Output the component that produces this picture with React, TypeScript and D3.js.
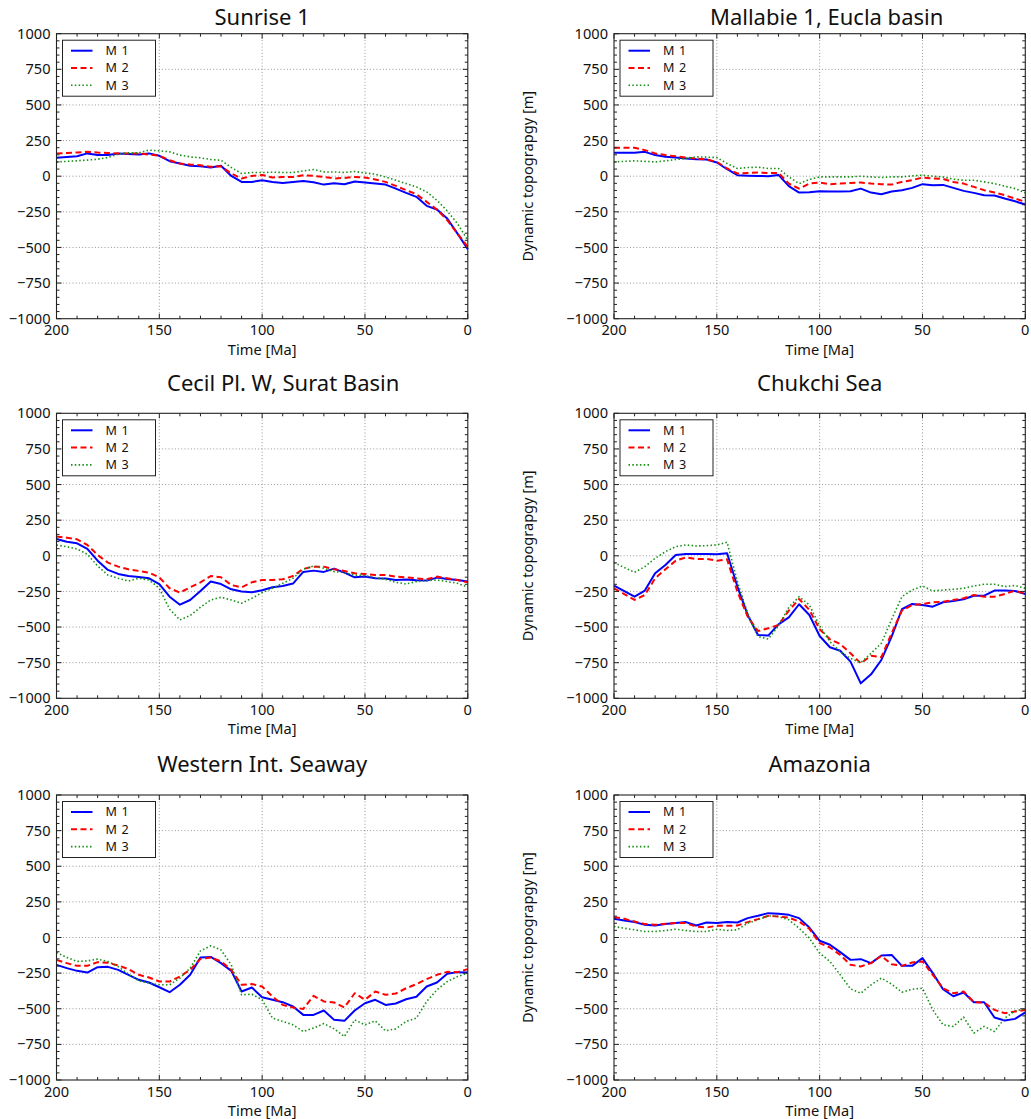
import * as d3 from "d3";

// time axis, Ma (left = old)
const times = [200, 195, 190, 185, 180, 175, 170, 165, 160, 155, 150, 145, 140, 135, 130, 125, 120, 115, 110, 105, 100, 95, 90, 85, 80, 75, 70, 65, 60, 55, 50, 45, 40, 35, 30, 25, 20, 15, 10, 5, 0];

const xTicks = [200, 150, 100, 50, 0];
const yTicks = [1000, 750, 500, 250, 0, -250, -500, -750, -1000];

const seriesNames = ["M 1", "M 2", "M 3"];

// Sunrise 1
const sunriseM1 = [129, 135, 140, 160, 148, 148, 160, 156, 152, 160, 143, 105, 89, 73, 70, 61, 73, 2, -40, -40, -28, -40, -47, -40, -33, -42, -59, -49, -56, -37, -44, -52, -59, -87, -117, -145, -208, -234, -297, -403, -513];
const sunriseM2 = [160, 163, 166, 171, 166, 163, 160, 160, 160, 152, 143, 112, 89, 82, 77, 66, 70, 19, -16, 2, 9, -9, -5, -5, 7, 2, -5, -16, -12, -5, -9, -23, -40, -68, -98, -126, -180, -234, -309, -403, -496];
const sunriseM3 = [100, 104, 108, 113, 119, 131, 155, 164, 164, 183, 178, 171, 148, 136, 129, 117, 112, 61, 19, 26, 26, 28, 26, 26, 37, 47, 30, 30, 26, 33, 23, 14, -5, -28, -52, -75, -110, -169, -244, -333, -450];

// Mallabie 1, Eucla basin
const mallabieM1 = [164, 164, 164, 171, 148, 136, 131, 125, 119, 117, 96, 49, 7, 4, 2, 0, 9, -70, -115, -112, -105, -108, -108, -105, -87, -115, -126, -108, -98, -82, -56, -63, -61, -82, -103, -117, -133, -136, -157, -176, -199];
const mallabieM2 = [199, 199, 199, 183, 160, 148, 140, 131, 124, 117, 101, 54, 19, 23, 26, 23, 23, -52, -87, -52, -44, -56, -52, -47, -44, -52, -56, -59, -40, -28, -9, -16, -19, -40, -52, -75, -98, -115, -133, -157, -180];
const mallabieM3 = [100, 104, 108, 104, 100, 108, 117, 124, 136, 134, 131, 89, 54, 61, 63, 54, 54, -5, -52, -23, -5, -5, -5, -5, 0, -5, -9, -5, -5, 2, 7, 0, -5, -21, -28, -28, -40, -52, -70, -87, -117];

// Cecil Pl. W, Surat Basin
const cecilM1 = [118, 99, 88, 48, -34, -99, -127, -142, -149, -158, -198, -287, -343, -310, -247, -181, -198, -235, -251, -256, -242, -221, -212, -195, -113, -104, -113, -90, -118, -151, -146, -158, -160, -170, -167, -172, -174, -153, -163, -170, -181];
const cecilM2 = [135, 127, 116, 76, 6, -48, -76, -95, -106, -118, -151, -228, -258, -221, -186, -142, -151, -205, -221, -186, -170, -170, -165, -142, -92, -76, -76, -95, -106, -123, -127, -135, -135, -146, -151, -158, -165, -146, -158, -170, -186];
const cecilM3 = [76, 64, 48, 11, -71, -135, -158, -177, -158, -170, -228, -375, -450, -419, -361, -310, -291, -310, -333, -298, -258, -228, -193, -158, -95, -71, -88, -111, -118, -135, -139, -153, -165, -186, -198, -181, -174, -170, -181, -193, -221];

// Chukchi Sea
const chukchiM1 = [-209, -248, -287, -244, -123, -64, 6, 13, 13, 13, 11, 18, -216, -415, -556, -560, -481, -432, -340, -415, -563, -642, -666, -743, -895, -832, -731, -567, -375, -338, -345, -357, -326, -317, -305, -280, -280, -244, -244, -247, -268];
const chukchiM2 = [-228, -269, -310, -275, -158, -95, -34, -11, -22, -22, -34, -25, -251, -427, -528, -509, -485, -385, -303, -380, -516, -586, -619, -684, -754, -701, -712, -544, -385, -345, -338, -326, -322, -310, -298, -275, -287, -287, -268, -244, -268];
const chukchiM3 = [-48, -82, -116, -76, -18, 29, 64, 76, 69, 71, 76, 95, -181, -404, -567, -584, -492, -361, -287, -345, -492, -603, -673, -720, -750, -684, -614, -446, -287, -240, -212, -247, -240, -235, -228, -212, -200, -200, -216, -209, -228];

// Western Int. Seaway
const westernM1 = [-192, -215, -234, -246, -208, -206, -227, -262, -297, -316, -349, -384, -332, -262, -140, -136, -180, -234, -379, -351, -419, -437, -454, -484, -543, -543, -512, -578, -585, -512, -461, -437, -473, -463, -433, -416, -344, -316, -255, -243, -246];
const westernM2 = [-157, -180, -199, -199, -173, -178, -196, -222, -262, -281, -309, -309, -274, -227, -150, -140, -168, -227, -332, -327, -344, -414, -473, -491, -501, -409, -449, -456, -491, -391, -437, -379, -402, -393, -356, -327, -292, -262, -241, -243, -222];
const westernM3 = [-105, -140, -168, -164, -152, -168, -204, -257, -304, -320, -332, -332, -285, -215, -94, -58, -87, -192, -402, -398, -437, -566, -589, -613, -660, -636, -604, -641, -695, -578, -613, -585, -655, -641, -589, -566, -449, -367, -309, -274, -250];

// Amazonia
const amazoniaM1 = [131, 119, 108, 89, 84, 94, 101, 108, 84, 105, 101, 108, 105, 136, 152, 171, 166, 159, 136, 70, -23, -51, -103, -157, -152, -180, -126, -122, -199, -199, -145, -250, -363, -412, -386, -454, -454, -561, -582, -571, -526];
const amazoniaM2 = [143, 131, 112, 94, 89, 96, 101, 101, 77, 70, 82, 82, 84, 108, 129, 152, 147, 140, 112, 61, -40, -70, -122, -192, -203, -180, -129, -187, -199, -175, -168, -262, -356, -391, -379, -454, -456, -508, -531, -519, -508];
const amazoniaM3 = [77, 65, 54, 42, 42, 49, 58, 49, 42, 42, 58, 49, 54, 101, 124, 152, 147, 124, 65, -5, -110, -168, -262, -360, -391, -332, -285, -327, -384, -363, -356, -508, -613, -624, -559, -671, -624, -660, -566, -515, -501];

const panels = [
  { title: "Sunrise 1", series: [sunriseM1, sunriseM2, sunriseM3] },
  { title: "Mallabie 1, Eucla basin", series: [mallabieM1, mallabieM2, mallabieM3] },
  { title: "Cecil Pl. W, Surat Basin", series: [cecilM1, cecilM2, cecilM3] },
  { title: "Chukchi Sea", series: [chukchiM1, chukchiM2, chukchiM3] },
  { title: "Western Int. Seaway", series: [westernM1, westernM2, westernM3] },
  { title: "Amazonia", series: [amazoniaM1, amazoniaM2, amazoniaM3] },
];

const styles = [
  { color: "#0000ff", width: 2, dash: null },
  { color: "#ff0000", width: 2, dash: "6,3.5" },
  { color: "#159015", width: 1.6, dash: "1.5,2.3" },
];

const W = 1031;
const H = 1119;
const colX = [56.5, 614];
const rowY = [33.7, 413.3, 795];
const plotW = 411.3;
const plotH = 285;
const titleY = [25, 391, 772];
const titleDx = [0, 7, 21, 0, 0, 0];
const font = "'Noto Sans', 'Open Sans', sans-serif";

const minus = (v: number) => String(v).replace("-", "\u2212");

function Panel({ idx }: { idx: number }) {
  const p = panels[idx];
  const col = idx % 2;
  const row = Math.floor(idx / 2);
  const x0 = colX[col];
  const y0 = rowY[row];

  const x = d3.scaleLinear().domain([200, 0]).range([0, plotW]);
  const y = d3.scaleLinear().domain([-1000, 1000]).range([plotH, 0]);

  const line = d3
    .line<number>()
    .x((_, i) => x(times[i]))
    .y((d) => y(d));

  const xMinor = d3.range(0, 201, 10).filter((t) => t % 50 !== 0);
  const yMinor = d3.range(-1000, 1001, 50).filter((v) => v % 250 !== 0);
  const major = 5;
  const minor = 3;

  return (
    <g transform={`translate(${x0},${y0})`} fontFamily={font}>
      <text x={plotW / 2 + titleDx[idx]} y={titleY[row] - y0} textAnchor="middle" fontSize={22} fill="#111">
        {p.title}
      </text>

      {/* grid */}
      <g stroke="#8a8a8a" strokeWidth={0.9} strokeDasharray="1,2.2">
        {xTicks.slice(1, -1).map((t) => (
          <line key={"gx" + t} x1={x(t)} x2={x(t)} y1={0} y2={plotH} />
        ))}
        {yTicks.slice(1, -1).map((v) => (
          <line key={"gy" + v} x1={0} x2={plotW} y1={y(v)} y2={y(v)} />
        ))}
      </g>

      {/* data lines */}
      {p.series.map((s, i) => (
        <path
          key={i}
          d={line(s) ?? ""}
          fill="none"
          stroke={styles[i].color}
          strokeWidth={styles[i].width}
          strokeDasharray={styles[i].dash ?? undefined}
          strokeLinejoin="round"
        />
      ))}

      {/* ticks, inward on all sides */}
      <g stroke="#222" strokeWidth={1}>
        {xTicks.map((t) => (
          <g key={"tx" + t}>
            <line x1={x(t)} x2={x(t)} y1={plotH} y2={plotH - major} />
            <line x1={x(t)} x2={x(t)} y1={0} y2={major} />
          </g>
        ))}
        {xMinor.map((t) => (
          <g key={"mx" + t}>
            <line x1={x(t)} x2={x(t)} y1={plotH} y2={plotH - minor} />
            <line x1={x(t)} x2={x(t)} y1={0} y2={minor} />
          </g>
        ))}
        {yTicks.map((v) => (
          <g key={"ty" + v}>
            <line x1={0} x2={major} y1={y(v)} y2={y(v)} />
            <line x1={plotW} x2={plotW - major} y1={y(v)} y2={y(v)} />
          </g>
        ))}
        {yMinor.map((v) => (
          <g key={"my" + v}>
            <line x1={0} x2={minor} y1={y(v)} y2={y(v)} />
            <line x1={plotW} x2={plotW - minor} y1={y(v)} y2={y(v)} />
          </g>
        ))}
      </g>

      <rect x={0} y={0} width={plotW} height={plotH} fill="none" stroke="#222" strokeWidth={1.1} />

      {/* tick labels */}
      <g fontSize={14.6} fill="#111">
        {xTicks.map((t) => (
          <text key={"lx" + t} x={x(t)} y={plotH + 16.5} textAnchor="middle">
            {t}
          </text>
        ))}
        {yTicks.map((v) => (
          <text key={"ly" + v} x={-6} y={y(v)} dy="0.35em" textAnchor="end">
            {minus(v)}
          </text>
        ))}
      </g>

      <text x={plotW / 2} y={plotH + 36} textAnchor="middle" fontSize={14.6} fill="#111">
        Time [Ma]
      </text>

      {col === 1 && (
        <text
          transform={`translate(${-81},${plotH / 2}) rotate(-90)`}
          textAnchor="middle"
          fontSize={14.6}
          fill="#111"
        >
          Dynamic topograpgy [m]
        </text>
      )}

      {/* legend */}
      <g transform="translate(6,6.5)">
        <rect x={0} y={0} width={93} height={56} fill="#fff" stroke="#222" strokeWidth={1} />
        {seriesNames.map((n, i) => (
          <g key={n} transform={`translate(0,${10.5 + i * 17.3})`}>
            <line
              x1={8.5}
              x2={30}
              y1={0}
              y2={0}
              stroke={styles[i].color}
              strokeWidth={styles[i].width}
              strokeDasharray={styles[i].dash ?? undefined}
            />
            <text x={43} y={0} dy="0.35em" fontSize={12.6} letterSpacing={0.7} fill="#111">
              {n}
            </text>
          </g>
        ))}
      </g>
    </g>
  );
}

export default function App() {
  return (
    <svg
      width={W}
      height={H}
      style={{ position: "absolute", left: 0, top: 0, background: "#fff" }}
    >
      <rect width={W} height={H} fill="#fff" />
      {panels.map((_, i) => (
        <Panel key={i} idx={i} />
      ))}
    </svg>
  );
}
